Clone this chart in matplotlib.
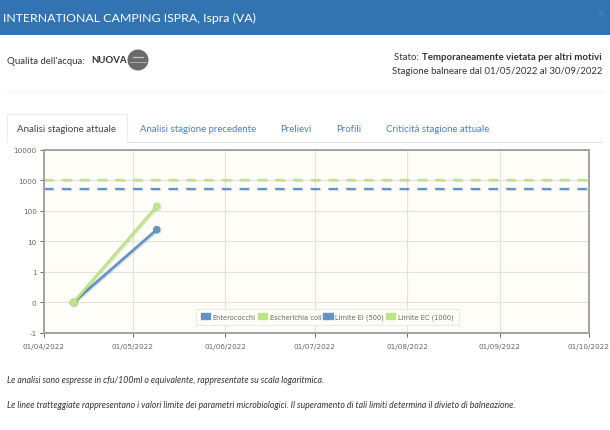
import numpy as np
import pandas as pd
import matplotlib
matplotlib.use("Agg")
import matplotlib.pyplot as plt
import matplotlib.dates as mdates
import matplotlib.patheffects as pe
from matplotlib.patches import Rectangle, Circle, Patch

plt.rcParams['font.family'] = ['Lato', 'DejaVu Sans']

# dati
date_analisi = pd.to_datetime(["2022-04-11", "2022-05-09"])
enterococchi = [0, 24]
escherichia = [0, 140]
limite_ei = 500
limite_ec = 1000
x_ticks = pd.to_datetime(["2022-04-01", "2022-05-01", "2022-06-01", "2022-07-01",
                          "2022-08-01", "2022-09-01", "2022-10-01"])
y_ticks = [-1, 0, 1, 10, 100, 1000, 10000]
y_labels = ["-1", "0", "1", "10", "100", "1000", "10000"]
tabs = ["Analisi stagione precedente", "Prelievi", "Profili", "Criticità stagione attuale"]
tabs_x = [140, 280, 336, 386]

BLUE = "#6593c8"
GREEN = "#bce685"
TXT = "#333333"
LINK = "#4a7fc0"
W, H = 610, 431


# scala: log sopra 1, lineare sotto
def forward(v):
    v = np.asarray(v, dtype=float)
    return np.where(v >= 1, np.log10(np.maximum(v, 1)) + 1, v)


def inverse(y):
    y = np.asarray(y, dtype=float)
    return np.where(y >= 1, 10 ** (y - 1), y)


fig = plt.figure(figsize=(W / 100, H / 100), dpi=100)

# sfondo pagina in pixel
bg = fig.add_axes([0, 0, 1, 1])
bg.set_xlim(0, W)
bg.set_ylim(H, 0)
bg.axis("off")
bg.add_patch(Rectangle((0, 0), W, 36, color="#3274b2", lw=0))
bg.text(3, 18, "INTERNATIONAL CAMPING ISPRA, Ispra (VA)", color="white", fontsize=8.95, va="center")
bg.text(601, 14, "×", color="#4a86bf", fontsize=9, ha="center", va="center")

bg.text(7, 61, "Qualita dell'acqua:", color=TXT, fontsize=6.95, va="center")
bg.text(91, 60.5, "NUOVA", color=TXT, fontsize=6.95, va="center", fontweight="bold")
bg.add_patch(Circle((138, 61), 10.5, color="#6a6a6a", lw=0))
bg.plot([130, 146], [63, 63], color="#b0b0b0", lw=0.7)
bg.plot([133, 143], [58, 58], color="#c8c8c8", lw=0.9)

bg.text(394, 58, "Stato: ", color=TXT, fontsize=6.95, va="center")
bg.text(602, 58, "Temporaneamente vietata per altri motivi", color=TXT, fontsize=6.95,
        va="center", ha="right", fontweight="bold")
bg.text(602, 72, "Stagione balneare dal 01/05/2022 al 30/09/2022", color=TXT, fontsize=6.9,
        va="center", ha="right")
bg.plot([7, 602], [92, 92], color="#f2f2f2", lw=0.8)

# schede
bg.plot([128, 602], [143, 143], color="#e4e4e4", lw=0.8)
bg.plot([7, 7, 127, 127], [143, 115, 115, 143], color="#ececec", lw=0.8)
bg.text(17, 129.5, "Analisi stagione attuale", color="#444444", fontsize=7.05, va="center")
for t, x in zip(tabs, tabs_x):
    bg.text(x, 129.5, t, color=LINK, fontsize=6.95, va="center")

bg.text(7, 380.5, "Le analisi sono espresse in cfu/100ml o equivalente, rappresentate su scala logaritmica.",
        color=TXT, fontsize=6.3, va="center", style="italic")
bg.text(7, 405.5, "Le linee tratteggiate rappresentano i valori limite dei parametri microbiologici. "
        "Il superamento di tali limiti determina il divieto di balneazione.",
        color=TXT, fontsize=6.33, va="center", style="italic")

# grafico
left, right, top, bottom = 43.5, 589, 150.5, 334
ax = fig.add_axes([left / W, 1 - bottom / H, (right - left) / W, (bottom - top) / H])
ax.set_facecolor("#fffdf7")
ax.set_yscale("function", functions=(forward, inverse))
ax.set_ylim(-1, 10000)
ax.set_xlim(x_ticks[0], x_ticks[-1])
ax.set_yticks(y_ticks)
ax.set_yticklabels(y_labels)
ax.minorticks_off()
ax.set_xticks(x_ticks)
ax.xaxis.set_major_formatter(mdates.DateFormatter("%d/%m/%Y"))
ax.tick_params(labelsize=5.2, colors="#666666", length=3, width=0.7, labelfontfamily="DejaVu Sans")
ax.tick_params(axis="x", pad=4.5)
ax.tick_params(axis="y", pad=2)
ax.grid(True, color="#e3e3dd", lw=0.8)
ax.set_axisbelow(True)
for s in ax.spines.values():
    s.set_color("#a3a3a0")
    s.set_linewidth(1.4)

shadow = [pe.SimpleLineShadow(offset=(0.8, -0.8), alpha=0.12, shadow_color="#333333"), pe.Normal()]
ax.axhline(limite_ec, color=GREEN, lw=1.6, dashes=(4.3, 3.7), path_effects=shadow)
ax.axhline(limite_ei, color=BLUE, lw=1.6, dashes=(4.3, 3.7), path_effects=shadow)
ax.plot(date_analisi, enterococchi, color=BLUE, lw=2, marker="o", ms=4.5, path_effects=shadow,
        clip_on=False, zorder=3)
ax.plot(date_analisi, escherichia, color=GREEN, lw=2, marker="o", ms=4.5, path_effects=shadow,
        clip_on=False, zorder=4)

handles = [Patch(color=BLUE), Patch(color=GREEN), Patch(color=BLUE), Patch(color=GREEN)]
labels = ["Enterococchi", "Escherichia coli", "Limite EI (500)", "Limite EC (1000)"]
leg = ax.legend(handles, labels, ncol=4, loc="lower left", bbox_to_anchor=(0.2795, 0.043),
                frameon=True, fancybox=False, framealpha=1, edgecolor="#e6e6e0", facecolor="#fffdf7",
                prop={"family": "DejaVu Sans", "size": 4.75}, labelcolor="#666666",
                handlelength=1.4, handleheight=1.0, handletextpad=0.4, columnspacing=0.3,
                borderpad=0.75, borderaxespad=0)
leg.get_frame().set_linewidth(0.6)

fig.savefig("out.png", dpi=100)
